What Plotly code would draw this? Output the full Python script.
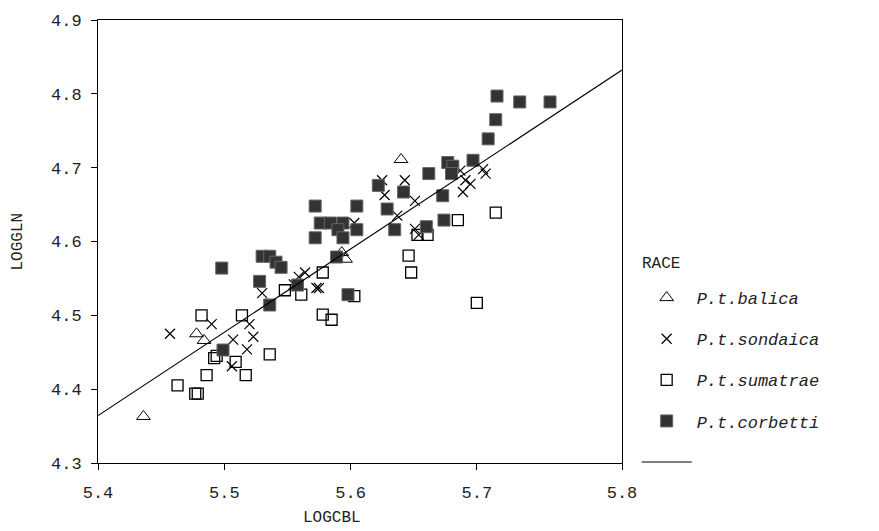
import plotly.graph_objects as go

# ---------------- data ----------------
balica_x = [5.436, 5.478, 5.484, 5.593, 5.596, 5.640]
balica_y = [4.363, 4.475, 4.466, 4.585, 4.576, 4.711]

sondaica_x = [5.457, 5.490, 5.507, 5.520, 5.523, 5.518, 5.506, 5.530, 5.559, 5.564,
              5.555, 5.573, 5.575, 5.603, 5.625, 5.643, 5.627, 5.651, 5.637, 5.651,
              5.654, 5.687, 5.691, 5.695, 5.689, 5.705, 5.707]
sondaica_y = [4.475, 4.488, 4.467, 4.488, 4.471, 4.454, 4.431, 4.530, 4.552, 4.558,
              4.542, 4.537, 4.537, 4.625, 4.683, 4.683, 4.663, 4.655, 4.635, 4.617,
              4.609, 4.696, 4.683, 4.678, 4.667, 4.698, 4.692]

sumatrae_x = [5.482, 5.514, 5.494, 5.492, 5.509, 5.486, 5.517, 5.463, 5.477, 5.479,
              5.536, 5.548, 5.561, 5.578, 5.603, 5.578, 5.585, 5.653, 5.661, 5.646,
              5.648, 5.685, 5.715, 5.700]
sumatrae_y = [4.500, 4.500, 4.445, 4.442, 4.437, 4.419, 4.419, 4.405, 4.394, 4.394,
              4.447, 4.534, 4.528, 4.558, 4.526, 4.501, 4.494, 4.609, 4.609, 4.581,
              4.558, 4.629, 4.639, 4.517]

corbetti_x = [5.498, 5.528, 5.530, 5.499, 5.536, 5.536, 5.541, 5.545, 5.558, 5.572,
              5.605, 5.576, 5.584, 5.594, 5.590, 5.605, 5.572, 5.594, 5.589, 5.598,
              5.622, 5.642, 5.629, 5.662, 5.635, 5.660, 5.716, 5.734, 5.758, 5.715,
              5.709, 5.697, 5.677, 5.681, 5.680, 5.673, 5.674]
corbetti_y = [4.564, 4.546, 4.580, 4.453, 4.514, 4.580, 4.572, 4.565, 4.541, 4.648,
              4.648, 4.625, 4.625, 4.625, 4.616, 4.616, 4.605, 4.605, 4.579, 4.528,
              4.676, 4.667, 4.644, 4.692, 4.616, 4.620, 4.797, 4.789, 4.789, 4.765,
              4.739, 4.710, 4.707, 4.702, 4.692, 4.662, 4.629]

fit_slope = 1.128
fit_intercept = -1.727
fit_x = [5.4, 5.815]
fit_y = [fit_intercept + fit_slope * v for v in fit_x]

x_tickvals = [5.4, 5.5, 5.6, 5.7, 5.815]
x_ticktext = ["5.4", "5.5", "5.6", "5.7", "5.8"]
y_tickvals = [4.3, 4.4, 4.5, 4.6, 4.7, 4.8, 4.9]
y_ticktext = ["4.3", "4.4", "4.5", "4.6", "4.7", "4.8", "4.9"]

# ---------------- figure ----------------
FONT = "Liberation Mono, Courier New, monospace"
fig = go.Figure()

fig.add_trace(go.Scatter(x=balica_x, y=balica_y, mode="markers", name="P.t.balica",
                         legendgroup="a",
                         marker=dict(symbol="triangle-up-open", size=12, color="black",
                                     line=dict(width=1, color="black"))))
fig.add_trace(go.Scatter(x=sondaica_x, y=sondaica_y, mode="markers", name="P.t.sondaica",
                         legendgroup="b",
                         marker=dict(symbol="x-thin-open", size=10, color="black",
                                     line=dict(width=1.2, color="black"))))
fig.add_trace(go.Scatter(x=sumatrae_x, y=sumatrae_y, mode="markers", name="P.t.sumatrae",
                         legendgroup="c",
                         marker=dict(symbol="square-open", size=11, color="black",
                                     line=dict(width=1.3, color="black"))))
fig.add_trace(go.Scatter(x=corbetti_x, y=corbetti_y, mode="markers", name="P.t.corbetti",
                         legendgroup="d",
                         marker=dict(symbol="square", size=12, color="#333333",
                                     line=dict(width=1, color="#666666"))))
fig.add_trace(go.Scatter(x=fit_x, y=fit_y, mode="lines", name=" ", legendgroup="e",
                         line=dict(color="black", width=1.2)))

axis_common = dict(showgrid=False, zeroline=False, showline=True, linecolor="black",
                   linewidth=1, mirror=True, ticks="outside", ticklen=6,
                   tickcolor="black", tickfont=dict(family=FONT, size=17, color="#222"))

fig.update_xaxes(range=[5.4, 5.815], tickvals=x_tickvals, ticktext=x_ticktext,
                 ticklabelstandoff=8, **axis_common)
fig.update_yaxes(range=[4.3, 4.9], tickvals=y_tickvals, ticktext=y_ticktext,
                 ticklabelstandoff=6, **axis_common)

fig.update_layout(
    width=879, height=531,
    margin=dict(l=98, r=257, t=15, b=68),
    paper_bgcolor="white", plot_bgcolor="white",
    font=dict(family=FONT, size=17, color="#222"),
    showlegend=True,
    legend=dict(x=1.028, y=(463 - 278) / 448, xanchor="left", yanchor="top",
                font=dict(family=FONT, size=17, color="#222", style="italic"),
                tracegroupgap=16, itemwidth=50, bgcolor="rgba(0,0,0,0)"),
    annotations=[
        dict(text="LOGCBL", xref="paper", yref="paper", x=(332 - 98) / 524, y=-0.1,
             xanchor="center", yanchor="top", showarrow=False,
             font=dict(family=FONT, size=16, color="#222")),
        dict(text="LOGGLN", xref="paper", yref="paper", x=-(98 - 17) / 524, y=0.5,
             xanchor="center", yanchor="middle", showarrow=False, textangle=-90,
             font=dict(family=FONT, size=16, color="#222")),
        dict(text="RACE", xref="paper", yref="paper", x=(640 - 98) / 524,
             y=(463 - 262) / 448, xanchor="left", yanchor="middle", showarrow=False,
             font=dict(family=FONT, size=16, color="#222")),
    ],
)

fig.write_html("out.html")
